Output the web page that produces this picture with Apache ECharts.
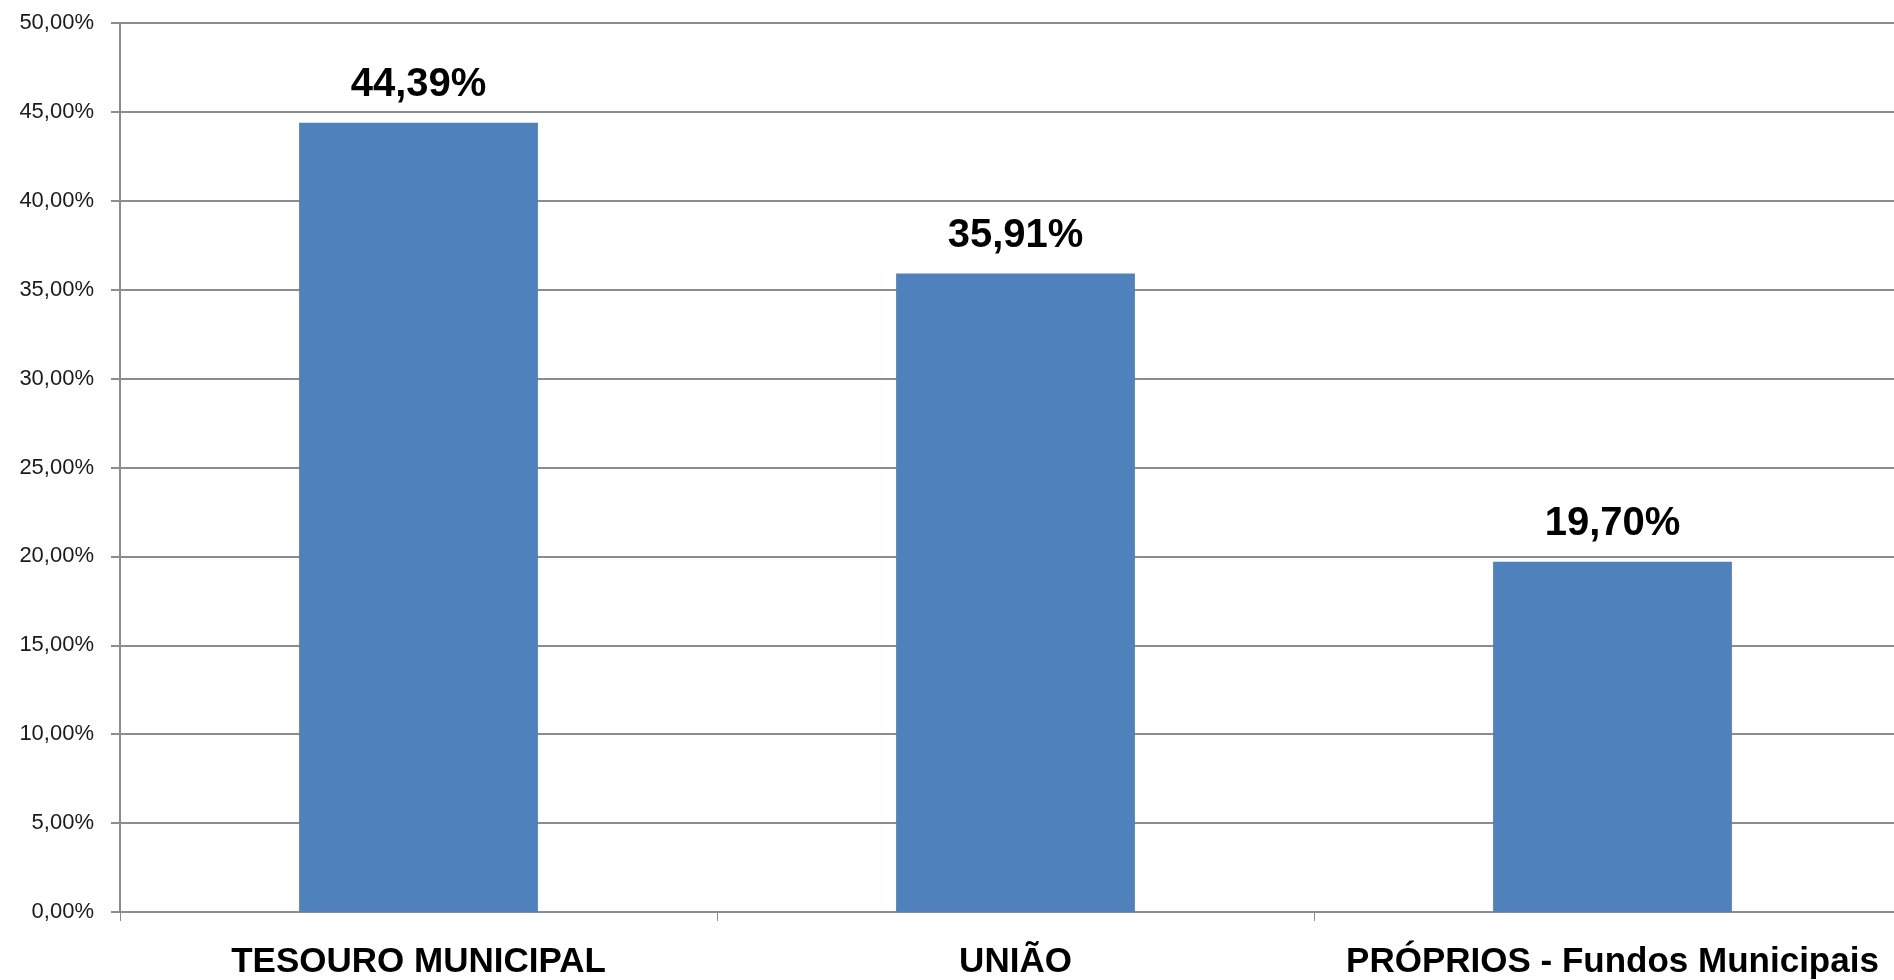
<!DOCTYPE html>
<html>
<head>
<meta charset="utf-8">
<script src="https://cdn.jsdelivr.net/npm/echarts@6/dist/echarts.min.js"></script>
<style>
    html, body { margin: 0; padding: 0; background: #fff; overflow: hidden; }
    #chart { width: 1911px; height: 980px; }
</style>
</head>
<body>
<div id="chart"></div>
<script>
    // dados do grafico
    var categorias = ['TESOURO MUNICIPAL', 'UNIÃO', 'PRÓPRIOS - Fundos Municipais'];
    var valores = [44.39, 35.91, 19.70];

    function pct(v) {
        return v.toFixed(2).replace('.', ',') + '%';
    }

    var myChart = echarts.init(document.getElementById('chart'));
    var option = {
        animation: false,
        grid: {
            left: 120,
            right: 0,
            top: 23,
            bottom: 68
        },
        xAxis: {
            type: 'category',
            data: categorias,
            axisLine: {lineStyle: {color: '#8c8c8c', width: 2}},
            axisTick: {show: true, length: 9, lineStyle: {color: '#8c8c8c', width: 1}},
            axisLabel: {
                interval: 0,
                margin: 33,
                color: '#000',
                fontFamily: 'Liberation Sans',
                fontWeight: 'bold',
                fontSize: 35
            }
        },
        yAxis: {
            type: 'value',
            min: 0,
            max: 50,
            interval: 5,
            axisLine: {show: true, lineStyle: {color: '#8c8c8c', width: 2}},
            axisTick: {show: true, length: 9, lineStyle: {color: '#8c8c8c', width: 2}},
            splitLine: {lineStyle: {color: '#8c8c8c', width: 2}},
            axisLabel: {
                margin: 26,
                color: '#1a1a1a',
                fontFamily: 'Liberation Sans',
                fontSize: 22,
                formatter: function (v) { return pct(v); }
            }
        },
        series: [
            {
                type: 'bar',
                data: valores,
                barWidth: '40%',
                itemStyle: {color: '#4F81BD'},
                label: {
                    show: true,
                    position: 'top',
                    distance: 18,
                    color: '#000',
                    fontFamily: 'Liberation Sans',
                    fontWeight: 'bold',
                    fontSize: 40,
                    formatter: function (p) { return pct(p.value); }
                }
            }
        ]
    };
    myChart.setOption(option);
</script>
</body>
</html>
